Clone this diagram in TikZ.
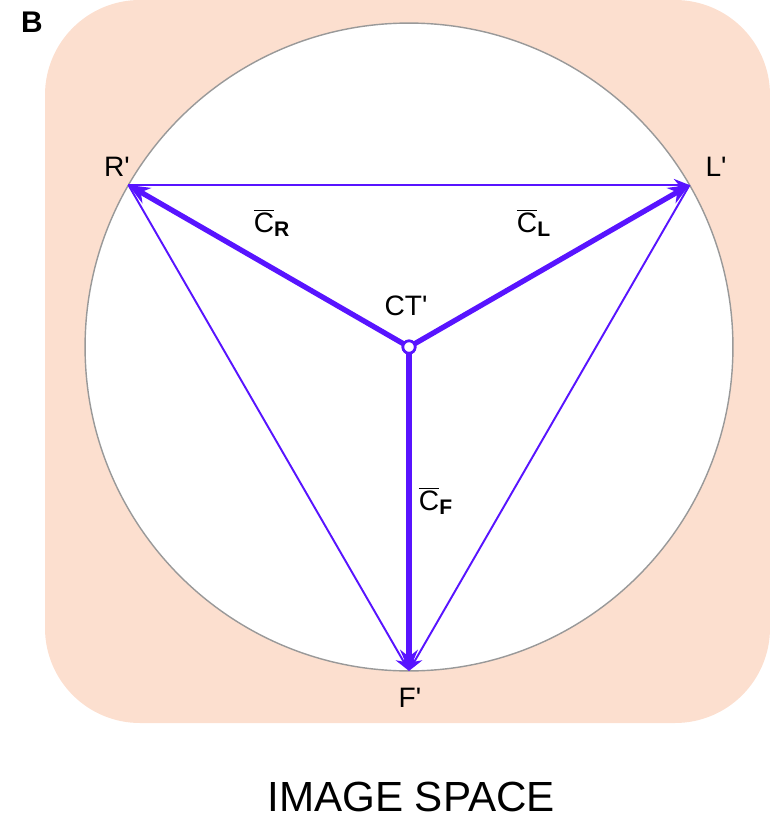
\documentclass[tikz,border=0pt]{standalone}
\usepackage{fontspec}
\setmainfont{Liberation Sans}
\usetikzlibrary{arrows.meta, positioning}
\definecolor{backdrop}{RGB}{252,223,207}
\definecolor{vecblue}{RGB}{88,20,255}
\newcommand{\vecsub}[1]{\mbox{\fontsize{12}{14}\selectfont\bfseries #1}}

\begin{document}
\begin{tikzpicture}[
    x=0.02cm, y=-0.02cm,
    lbl/.style={font=\fontsize{16}{18}\selectfont, inner sep=0pt},
    vlbl/.style={font=\fontsize{16}{18}\selectfont, inner sep=0pt},
    thinvec/.style={vecblue, line width=1.1pt, -{Stealth[length=9pt, width=7pt]}},
    thickvec/.style={vecblue, line width=3pt, -{Stealth[length=12pt, width=10pt]}, shorten <=-1pt}
]
\useasboundingbox (0,0) rectangle (770,821);

% backdrop and image circle
\fill[backdrop, rounded corners=1.9cm] (45,0) rectangle (770,723);
\node[draw=gray!80, line width=0.8pt, fill=white, circle, minimum size=12.96cm, inner sep=0pt] (disc) at (409,347) {};
\node[font=\fontsize{17}{19}\selectfont\bfseries] (tag) at (32,22) {B};

% vertices on the circle
\coordinate (CTp) at (409,347);
\path (CTp) ++(150:6.48cm) coordinate (R);
\path (CTp) ++(30:6.48cm) coordinate (L);
\path (CTp) ++(-90:6.48cm) coordinate (F);

% triangle
\draw[thinvec] (R) -- (L);
\draw[thinvec] (R) -- (F);
\draw[thinvec] (L) -- (F);

% vectors from centre
\node[circle, draw=vecblue, line width=1.5pt, fill=white, minimum size=7pt, inner sep=0pt] (CT) at (CTp) {};
\draw[thickvec] (CT) -- (R);
\draw[thickvec] (CT) -- (L);
\draw[thickvec] (CT) -- (F);
\node[circle, draw=vecblue, line width=1.5pt, fill=white, minimum size=7pt, inner sep=0pt] at (CTp) {};

% labels
\node[lbl] (Rlbl) at (117,167) {R\textquotesingle};
\node[lbl] (Llbl) at (716,167) {L\textquotesingle};
\node[lbl] (CTlbl) at (406,306) {CT\textquotesingle};
\node[lbl] (Flbl) at (410,698) {F\textquotesingle};
\node[vlbl] (cR) at (272,223) {$\overline{\mbox{C}}_{\vecsub{R}}$};
\node[vlbl] (cL) at (534,223) {$\overline{\mbox{C}}_{\vecsub{L}}$};
\node[vlbl] (cF) at (436,501) {$\overline{\mbox{C}}_{\vecsub{F}}$};

\node[font=\fontsize{24}{28}\selectfont] (caption) at (411,797) {IMAGE SPACE};

\end{tikzpicture}
\end{document}
